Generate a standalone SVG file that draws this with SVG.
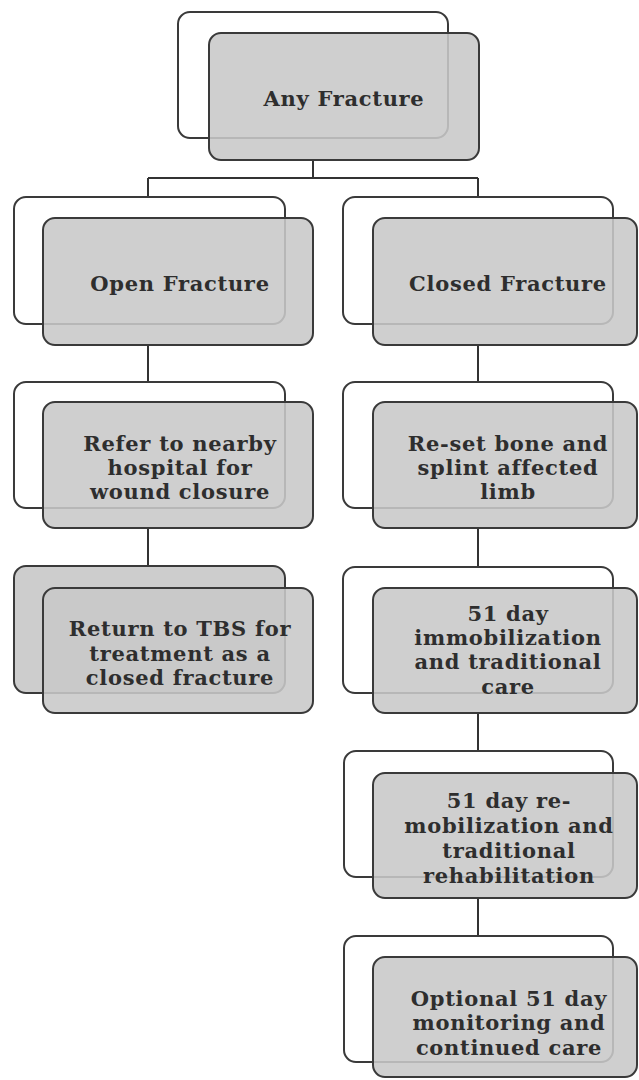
<svg xmlns="http://www.w3.org/2000/svg" width="639" height="1080" viewBox="0 0 639 1080">
<style>
.back{fill:#ffffff;stroke:#3a3a3a;stroke-width:2}
.backg{fill:#cdcdcd;stroke:#3a3a3a;stroke-width:2}
.front{fill:#c8c8c8;fill-opacity:0.88;stroke:#3a3a3a;stroke-width:2}
.t{font-family:"DejaVu Serif","Liberation Serif",serif;font-weight:bold;font-size:21px;letter-spacing:0.7px;fill:#2e2e2e;text-anchor:middle}
.c{fill:none;stroke:#333;stroke-width:2}
</style>
<rect width="639" height="1080" fill="#fff"/>
<g id="connectors">
<path class="c" d="M313 160 V178 M148 178 H478 M148 178 V197 M478 178 V197"/>
<path class="c" d="M148 345 V382 M148 528 V567"/>
<path class="c" d="M478 345 V382 M478 528 V567 M478 713 V751 M478 898 V936"/>
</g>
<g id="n-any">
<rect class="back" x="178" y="12" width="270" height="126" rx="12"/>
<rect class="front" x="209" y="33" width="270" height="127" rx="12"/>
<text class="t" x="344" y="106">Any Fracture</text>
</g>
<g id="n-open">
<rect class="back" x="14" y="197" width="271" height="127" rx="12"/>
<rect class="front" x="43" y="218" width="270" height="127" rx="12"/>
<text class="t" x="180" y="291">Open Fracture</text>
</g>
<g id="n-closed">
<rect class="back" x="343" y="197" width="270" height="127" rx="12"/>
<rect class="front" x="373" y="218" width="264" height="127" rx="12"/>
<text class="t" x="508" y="291">Closed Fracture</text>
</g>
<g id="n-refer">
<rect class="back" x="14" y="382" width="271" height="126" rx="12"/>
<rect class="front" x="43" y="402" width="270" height="126" rx="12"/>
<text class="t" x="180" y="451">Refer to nearby</text>
<text class="t" x="180" y="475">hospital for</text>
<text class="t" x="180" y="499">wound closure</text>
</g>
<g id="n-reset">
<rect class="back" x="343" y="382" width="270" height="126" rx="12"/>
<rect class="front" x="373" y="402" width="264" height="126" rx="12"/>
<text class="t" x="508" y="451">Re-set bone and</text>
<text class="t" x="508" y="475">splint affected</text>
<text class="t" x="508" y="499">limb</text>
</g>
<g id="n-return">
<rect class="backg" x="14" y="566" width="271" height="127" rx="12"/>
<rect class="front" x="43" y="588" width="270" height="125" rx="12"/>
<text class="t" x="180" y="636">Return to TBS for</text>
<text class="t" x="180" y="661">treatment as a</text>
<text class="t" x="180" y="685">closed fracture</text>
</g>
<g id="n-immob">
<rect class="back" x="343" y="567" width="270" height="126" rx="12"/>
<rect class="front" x="373" y="588" width="264" height="125" rx="12"/>
<text class="t" x="508" y="621">51 day</text>
<text class="t" x="508" y="645">immobilization</text>
<text class="t" x="508" y="669">and traditional</text>
<text class="t" x="508" y="694">care</text>
</g>
<g id="n-remob">
<rect class="back" x="344" y="751" width="269" height="126" rx="12"/>
<rect class="front" x="373" y="773" width="264" height="125" rx="12"/>
<text class="t" x="509" y="808">51 day re-</text>
<text class="t" x="509" y="833">mobilization and</text>
<text class="t" x="509" y="858">traditional</text>
<text class="t" x="509" y="883">rehabilitation</text>
</g>
<g id="n-optional">
<rect class="back" x="344" y="936" width="269" height="126" rx="12"/>
<rect class="front" x="373" y="957" width="264" height="120" rx="12"/>
<text class="t" x="509" y="1006">Optional 51 day</text>
<text class="t" x="509" y="1030">monitoring and</text>
<text class="t" x="509" y="1055">continued care</text>
</g>
</svg>
